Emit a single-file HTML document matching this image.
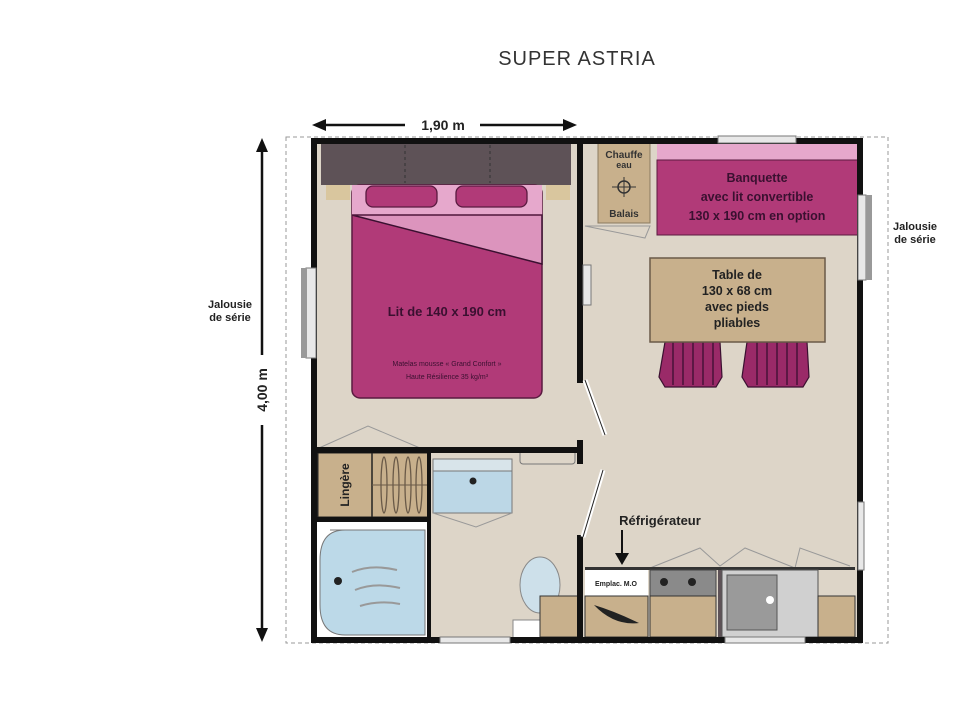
<!DOCTYPE html>
<html><head><meta charset="utf-8"><style>
html,body{margin:0;padding:0;background:#fff;width:960px;height:720px;overflow:hidden}
text{font-family:"Liberation Sans",sans-serif}
</style></head><body>
<svg width="960" height="720" viewBox="0 0 960 720" xmlns="http://www.w3.org/2000/svg">
<defs>
<marker id="ah" markerWidth="8" markerHeight="8" refX="7" refY="4" orient="auto"><path d="M0,0 L8,4 L0,8 Z" fill="#111"/></marker>
</defs>
<text x="577" y="65" font-size="20" fill="#333" text-anchor="middle" letter-spacing="1">SUPER ASTRIA</text>
<!-- dims -->
<line x1="320" y1="125" x2="405" y2="125" stroke="#111" stroke-width="2.5" marker-start="url(#ah)" style="marker-start:none"/>
<path d="M312,125 l14,-6 v12 z" fill="#111"/><path d="M577,125 l-14,-6 v12 z" fill="#111"/>
<line x1="480" y1="125" x2="565" y2="125" stroke="#111" stroke-width="2.5"/>
<text x="443" y="130" font-size="14" font-weight="bold" fill="#222" text-anchor="middle">1,90 m</text>
<line x1="262" y1="150" x2="262" y2="355" stroke="#111" stroke-width="2.5"/>
<line x1="262" y1="425" x2="262" y2="630" stroke="#111" stroke-width="2.5"/>
<path d="M262,138 l-6,14 h12 z" fill="#111"/><path d="M262,642 l-6,-14 h12 z" fill="#111"/>
<text transform="translate(267,390) rotate(-90)" font-size="14" font-weight="bold" fill="#222" text-anchor="middle">4,00 m</text>
<text x="230" y="308" font-size="11" font-weight="bold" fill="#222" text-anchor="middle">Jalousie</text>
<text x="230" y="321" font-size="11" font-weight="bold" fill="#222" text-anchor="middle">de série</text>
<text x="915" y="230" font-size="11" font-weight="bold" fill="#222" text-anchor="middle">Jalousie</text>
<text x="915" y="243" font-size="11" font-weight="bold" fill="#222" text-anchor="middle">de série</text>
<rect x="286" y="137" width="602" height="506" fill="none" stroke="#999" stroke-dasharray="4,3"/>
<!-- floor -->
<rect x="311" y="138" width="552" height="505" fill="#ddd5c8"/>
<!-- bedroom -->
<rect x="321" y="143" width="250" height="42" fill="#5e5257"/>
<line x1="405" y1="145" x2="405" y2="183" stroke="#333" stroke-dasharray="3,3"/>
<line x1="490" y1="145" x2="490" y2="183" stroke="#333" stroke-dasharray="3,3"/>
<rect x="326" y="185" width="24" height="15" fill="#d9c69e"/>
<rect x="546" y="185" width="24" height="15" fill="#d9c69e"/>
<rect x="352" y="185" width="190" height="213" rx="8" fill="#b13a78" stroke="#5a1a40" stroke-width="1.5"/>
<rect x="352" y="185" width="190" height="30" fill="#e6a8cc"/>
<path d="M352,215 L542,215 L542,264 Z" fill="#dc94bd" stroke="#3a1030" stroke-width="1.5"/>
<line x1="352" y1="215" x2="542" y2="215" stroke="#5a1a40" stroke-width="1"/>
<rect x="366" y="186" width="71" height="21" rx="7" fill="#b13a78" stroke="#5a1a40" stroke-width="1.3"/>
<rect x="456" y="186" width="71" height="21" rx="7" fill="#b13a78" stroke="#5a1a40" stroke-width="1.3"/>
<text x="447" y="316" font-size="13" font-weight="bold" fill="#3a1030" text-anchor="middle">Lit de 140 x 190 cm</text>
<text x="447" y="366" font-size="7" fill="#3a1030" text-anchor="middle">Matelas mousse « Grand Confort »</text>
<text x="447" y="379" font-size="7" fill="#3a1030" text-anchor="middle">Haute Résilience 35 kg/m³</text>
<!-- living -->
<rect x="598" y="143" width="52" height="80" fill="#c8b08c" stroke="#8a7a60"/>
<text x="624" y="158" font-size="10" font-weight="bold" fill="#333" text-anchor="middle">Chauffe</text>
<text x="624" y="168" font-size="9" font-weight="bold" fill="#333" text-anchor="middle">eau</text>
<circle cx="624" cy="187" r="6" fill="none" stroke="#333" stroke-width="1.5"/>
<line x1="612" y1="187" x2="636" y2="187" stroke="#333"/><line x1="624" y1="177" x2="624" y2="197" stroke="#333"/>
<text x="624" y="217" font-size="10" font-weight="bold" fill="#333" text-anchor="middle">Balais</text>
<path d="M585,226 L650,226 L645,238 Z" fill="none" stroke="#999"/>
<rect x="657" y="143" width="201" height="17" fill="#e6a8cc"/>
<rect x="657" y="160" width="201" height="75" fill="#b13a78" stroke="#5a1a40"/>
<text x="757" y="182" font-size="12.5" font-weight="bold" fill="#3a1030" text-anchor="middle">Banquette</text>
<text x="757" y="201" font-size="12.5" font-weight="bold" fill="#3a1030" text-anchor="middle">avec lit convertible</text>
<text x="757" y="220" font-size="12.5" font-weight="bold" fill="#3a1030" text-anchor="middle">130 x 190 cm en option</text>
<g fill="#9a2a68" stroke="#3a1030" stroke-width="1.2">
<path d="M665,342 h55 l2,35 l-6,10 h-51 l-6,-10 z"/><path d="M747,342 h60 l2,35 l-6,10 h-55 l-6,-10 z"/>
</g>
<g stroke="#3a1030" stroke-width="1.3">
<line x1="673" y1="342" x2="673" y2="385"/><line x1="683" y1="342" x2="683" y2="385"/><line x1="693" y1="342" x2="693" y2="385"/><line x1="703" y1="342" x2="703" y2="385"/><line x1="713" y1="342" x2="713" y2="385"/>
<line x1="757" y1="342" x2="757" y2="385"/><line x1="767" y1="342" x2="767" y2="385"/><line x1="777" y1="342" x2="777" y2="385"/><line x1="787" y1="342" x2="787" y2="385"/><line x1="797" y1="342" x2="797" y2="385"/>
</g>
<rect x="650" y="258" width="175" height="84" fill="#c8b08c" stroke="#6a5a48" stroke-width="1.5"/>
<text x="737" y="279" font-size="12.5" font-weight="bold" fill="#222" text-anchor="middle">Table de</text>
<text x="737" y="295" font-size="12.5" font-weight="bold" fill="#222" text-anchor="middle">130 x 68 cm</text>
<text x="737" y="311" font-size="12.5" font-weight="bold" fill="#222" text-anchor="middle">avec pieds</text>
<text x="737" y="327" font-size="12.5" font-weight="bold" fill="#222" text-anchor="middle">pliables</text>
<!-- bathroom -->
<path d="M319,448 L368,426 L420,448" fill="none" stroke="#999"/>
<rect x="317" y="452" width="112" height="66" fill="#c8b08c" stroke="#222" stroke-width="3"/>
<line x1="372" y1="452" x2="372" y2="518" stroke="#222" stroke-width="1.5"/>
<line x1="372" y1="485" x2="429" y2="485" stroke="#6a5a48"/>
<g fill="none" stroke="#6a5a48" stroke-width="1.3"><ellipse cx="384" cy="485" rx="3" ry="28"/><ellipse cx="396" cy="485" rx="3" ry="28"/><ellipse cx="408" cy="485" rx="3" ry="28"/><ellipse cx="419" cy="485" rx="3" ry="28"/></g>
<text transform="translate(349,485) rotate(-90)" font-size="12" font-weight="bold" fill="#222" text-anchor="middle">Lingère</text>
<rect x="433" y="459" width="79" height="54" fill="#bcd7e6" stroke="#777"/>
<rect x="433" y="459" width="79" height="12" fill="#d8e4ea" stroke="#777"/>
<circle cx="473" cy="481" r="3.5" fill="#222"/>
<path d="M433,513 L476,527 L512,513" fill="none" stroke="#999"/>
<rect x="520" y="450" width="55" height="14" rx="3" fill="#ddd5c8" stroke="#777"/>
<rect x="317" y="522" width="112" height="117" fill="#fff"/>
<path d="M330,530 H425 V635 H345 Q320,635 320,605 V560 Q320,530 345,530 Z" fill="#bcd9e8" stroke="#777"/>
<circle cx="338" cy="581" r="4" fill="#222"/>
<path d="M352,572 q20,-8 45,-2 M355,590 q20,-8 45,-2 M360,606 q20,-6 40,-2" fill="none" stroke="#999" stroke-width="2"/>
<ellipse cx="540" cy="585" rx="20" ry="28" fill="#cde0ea" stroke="#888"/>
<rect x="513" y="620" width="27" height="18" fill="#fff" stroke="#888"/>
<rect x="540" y="596" width="38" height="41" fill="#c8b08c" stroke="#333"/>
<!-- kitchen -->
<text x="660" y="525" font-size="13" font-weight="bold" fill="#222" text-anchor="middle">Réfrigérateur</text>
<line x1="622" y1="530" x2="622" y2="555" stroke="#111" stroke-width="2"/><path d="M615,553 L622,565 L629,553 Z" fill="#111"/>
<path d="M650,568 L700,548 L720,566 L745,548 L795,568 M795,568 L800,548 L850,566" fill="none" stroke="#999"/>
<rect x="585" y="567" width="270" height="3" fill="#333"/>
<rect x="585" y="570" width="63" height="26" fill="#fff"/>
<text x="616" y="586" font-size="7" font-weight="bold" fill="#222" text-anchor="middle">Emplac. M.O</text>
<rect x="585" y="596" width="63" height="41" fill="#c8b08c" stroke="#333"/>
<path d="M594,605 q20,6 45,18 q-25,3 -45,-18 z" fill="#222"/>
<rect x="650" y="570" width="66" height="26" fill="#8a8a8a" stroke="#444"/>
<circle cx="664" cy="582" r="4" fill="#222"/><circle cx="692" cy="582" r="4" fill="#222"/>
<rect x="650" y="596" width="66" height="41" fill="#c8b08c" stroke="#333"/>
<rect x="718" y="570" width="4" height="67" fill="#5e5257"/>
<rect x="722" y="570" width="96" height="67" fill="#d0d0d0" stroke="#555"/>
<rect x="727" y="575" width="50" height="55" fill="#9a9a9a" stroke="#555"/>
<circle cx="770" cy="600" r="4" fill="#fff"/>
<rect x="818" y="596" width="37" height="41" fill="#c8b08c" stroke="#333"/>
<!-- walls -->
<g fill="#111">
<rect x="311" y="138" width="552" height="6"/>
<rect x="311" y="138" width="6" height="505"/>
<rect x="857" y="138" width="6" height="505"/>
<rect x="311" y="637" width="552" height="6"/>
<rect x="577" y="138" width="6" height="245"/>
<rect x="577" y="535" width="6" height="108"/>
<rect x="317" y="447" width="265" height="6"/>
<rect x="577" y="440" width="6" height="24"/>
<rect x="427" y="452" width="4" height="187"/>
<rect x="317" y="517" width="114" height="5"/>
</g>
<!-- doors -->
<line x1="585" y1="380" x2="605" y2="435" stroke="#fff" stroke-width="5"/><line x1="585" y1="380" x2="605" y2="435" stroke="#222" stroke-width="1"/>
<line x1="603" y1="470" x2="583" y2="537" stroke="#fff" stroke-width="5"/><line x1="603" y1="470" x2="583" y2="537" stroke="#222" stroke-width="1"/>
<!-- windows -->
<g fill="#e8e8e8" stroke="#777">
<rect x="306" y="268" width="10" height="90"/>
<rect x="583" y="265" width="8" height="40"/>
<rect x="718" y="136" width="78" height="7"/>
<rect x="858" y="195" width="8" height="85"/>
<rect x="858" y="502" width="6" height="68"/>
<rect x="440" y="637" width="70" height="6"/>
<rect x="725" y="637" width="80" height="6"/>
</g>
<rect x="866" y="195" width="6" height="85" fill="#999"/>
<rect x="301" y="268" width="6" height="90" fill="#999"/>
</svg>
</body></html>
